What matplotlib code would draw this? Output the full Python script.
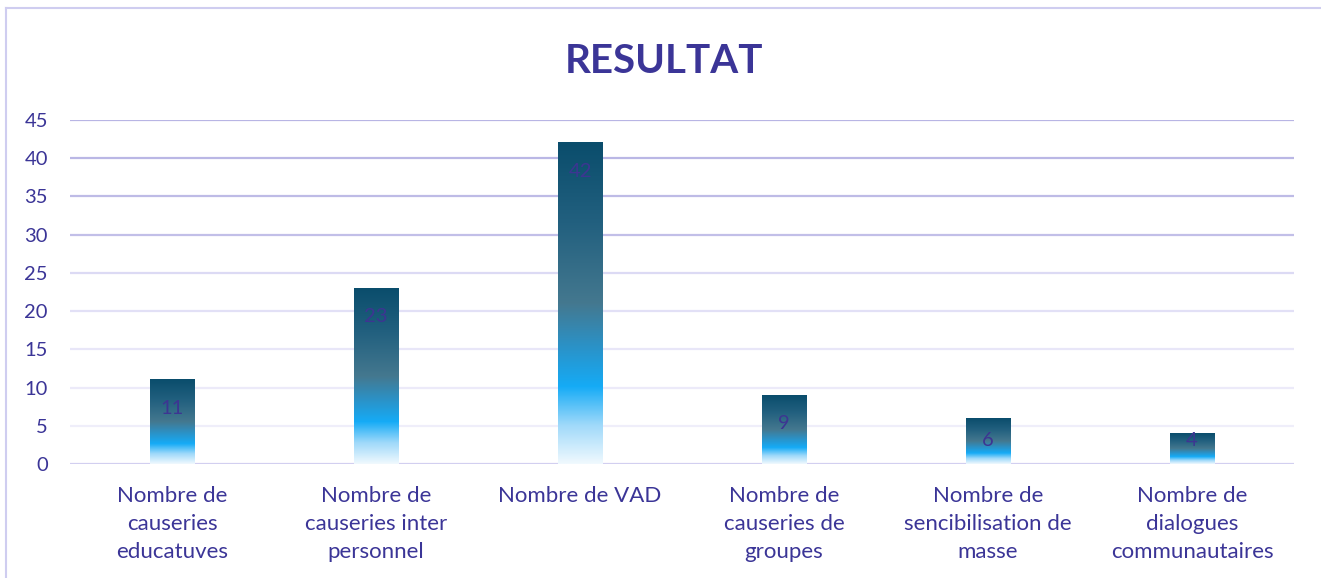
import numpy as np
import matplotlib.pyplot as plt
from matplotlib.colors import LinearSegmentedColormap
from matplotlib.lines import Line2D

categories = ['Nombre de\ncauseries\neducatuves',
              'Nombre de\ncauseries inter\npersonnel',
              'Nombre de VAD',
              'Nombre de\ncauseries de\ngroupes',
              'Nombre de\nsencibilisation de\nmasse',
              'Nombre de\ndialogues\ncommunautaires']
values = [11, 23, 42, 9, 6, 4]
yticks = [0, 5, 10, 15, 20, 25, 30, 35, 40, 45]

txt = '#3b3597'
plt.rcParams['font.family'] = ['Lato', 'DejaVu Sans']

fig = plt.figure(figsize=(13.21, 5.78), dpi=100)
ax = fig.add_axes([0.053, 0.197, 0.9266, 0.5955])

# degradé vertical des barres (bas -> haut)
cmap = LinearSegmentedColormap.from_list('barres', [
    (0.0, '#f0f9fe'), (0.12, '#9fd9fa'), (0.24, '#15abf6'),
    (0.36, '#2a93c9'), (0.5, '#44788f'), (0.75, '#22607f'), (1.0, '#0a4d6c')])
grad = np.linspace(0, 1, 256).reshape(-1, 1)

x = np.arange(len(values))
bars = ax.bar(x, values, width=0.22, color='none', zorder=3)
for b, v in zip(bars, values):
    ax.imshow(grad, cmap=cmap, origin='lower', aspect='auto', zorder=3,
              extent=[b.get_x(), b.get_x() + b.get_width(), 0, b.get_height()])
    ax.text(b.get_x() + b.get_width() / 2, max(v - 3.7, 3.1), str(v), ha='center', va='center',
            fontsize=14.5, color='#3d3592', zorder=4)

ax.set_xlim(-0.5, len(values) - 0.5)
ax.set_ylim(0, 45)

# lignes de grille qui s'éclaircissent vers le bas
grid_cols = ['#d2cff0', '#efeefa', '#eceaf9', '#e8e6f8', '#e2e0f6', '#dcdaf4',
             '#c2bfe8', '#bebbe6', '#bab7e5', '#b8b5e4']
for t, c in zip(yticks, grid_cols):
    ax.axhline(t, color=c, lw=1.6, zorder=1)

ax.set_yticks(yticks)
ax.set_xticks(x)
ax.set_xticklabels(categories, fontsize=16, color=txt, linespacing=1.5, va='top')
ax.tick_params(axis='y', labelsize=14.5, colors=txt, length=0, pad=16)
ax.tick_params(axis='x', length=0, pad=16)
for lab in ax.get_yticklabels():
    lab.set_horizontalalignment('right')
for s in ax.spines.values():
    s.set_visible(False)

fig.text(0.5025, 0.893, 'RESULTAT', ha='center', va='center', fontsize=29,
         fontweight='bold', color='#3b3597')

# cadre du graphique
fig.add_artist(Line2D([6 / 1321, 6 / 1321], [0, 1 - 8 / 578], color='#cfcdf0', lw=1.5))
fig.add_artist(Line2D([6 / 1321, 1], [1 - 8 / 578, 1 - 8 / 578], color='#cfcdf0', lw=1.5))

fig.savefig('out.png', dpi=100)
